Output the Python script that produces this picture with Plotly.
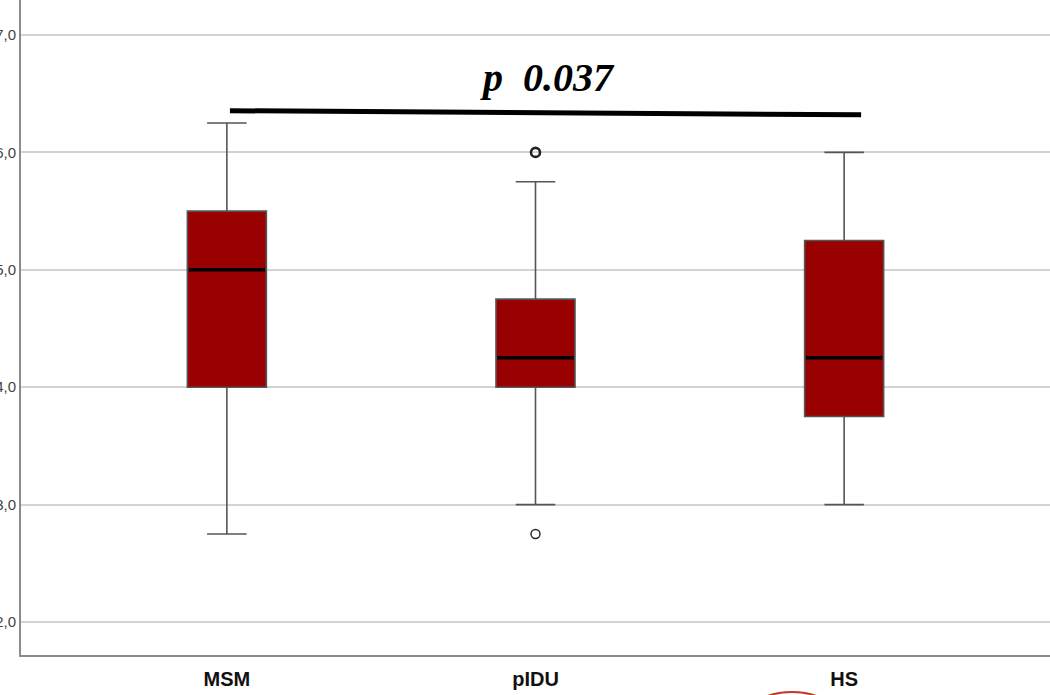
import plotly.graph_objects as go

# Group labels and box-plot summary statistics
groups = ["MSM", "pIDU", "HS"]
lower_whisker = [2.75, 3.0, 3.0]
q1 = [4.0, 4.0, 3.75]
median = [5.0, 4.25, 4.25]
q3 = [5.5, 4.75, 5.25]
upper_whisker = [6.25, 5.75, 6.0]

# Outlying observations
outlier_group = ["pIDU", "pIDU"]
outlier_value = [6.0, 2.75]

# y-axis ticks
tick_values = [2, 3, 4, 5, 6, 7]
tick_labels = ["2,0", "3,0", "4,0", "5,0", "6,0", "7,0"]

# Significance bracket
p_text = "p  0.037"
bracket_level = 6.34

BOX_W = 0.256
FILL = "#990000"

fig = go.Figure()

fig.add_trace(go.Box(
    x=groups,
    q1=q1,
    median=median,
    q3=q3,
    lowerfence=lower_whisker,
    upperfence=upper_whisker,
    fillcolor=FILL,
    line=dict(color="#555555", width=1.6),
    width=BOX_W,
    whiskerwidth=0.5,
    boxpoints=False,
    showlegend=False,
    hoverinfo="skip",
))

# heavier median bars
for i, m in enumerate(median):
    fig.add_shape(type="line", xref="x", yref="y",
                  x0=i - BOX_W / 2 + 0.004, x1=i + BOX_W / 2 - 0.004, y0=m, y1=m,
                  line=dict(color="black", width=3.5))

fig.add_trace(go.Scatter(
    x=outlier_group, y=outlier_value, mode="markers",
    marker=dict(symbol="circle-open", size=9, color="#222222",
                line=dict(width=[2.6, 1.4], color="#222222")),
    showlegend=False, hoverinfo="skip",
))

# significance bracket MSM vs HS
fig.add_shape(type="line", xref="x", yref="y",
              x0=0.01, x1=2.055, y0=bracket_level + 0.015, y1=bracket_level - 0.02,
              line=dict(color="black", width=5))
fig.add_annotation(x=1.04, y=6.64, xref="x", yref="y", text="<b><i>" + p_text + "</i></b>",
                   showarrow=False,
                   font=dict(family="Liberation Serif, Times New Roman, serif",
                             size=40, color="black"))

# small red arc at the lower edge
fig.add_shape(type="circle", xref="paper", yref="paper",
              x0=(748 - 21) / 1029, x1=(836 - 21) / 1029,
              y0=(655 - 740) / 655, y1=(655 - 692) / 655,
              line=dict(color="#c0392b", width=2), fillcolor="rgba(0,0,0,0)")

fig.update_layout(
    width=1050, height=695,
    margin=dict(l=21, r=0, t=0, b=40, pad=0),
    plot_bgcolor="white", paper_bgcolor="white",
    font=dict(family="Liberation Sans, Arial", color="#333333"),
)

fig.update_xaxes(
    type="category",
    categoryorder="array", categoryarray=groups,
    range=[-0.667, 2.667],
    showgrid=False, zeroline=False,
    showline=True, linecolor="#8c8c8c", linewidth=2,
    ticks="", automargin=False,
    tickfont=dict(family="Liberation Sans, Arial", size=20, color="#111111"),
    ticklabelstandoff=5,
    tickprefix="<b>", ticksuffix="</b>",
)

fig.update_yaxes(
    range=[1.719, 7.298],
    tickvals=tick_values, ticktext=tick_labels,
    showgrid=True, gridcolor="#d3d3d3", gridwidth=2,
    zeroline=False,
    showline=True, linecolor="#8c8c8c", linewidth=2,
    ticks="", automargin=False,
    tickfont=dict(family="Liberation Sans, Arial", size=15, color="#444444"),
    ticklabelstandoff=0,
)

fig.write_html("out.html")
